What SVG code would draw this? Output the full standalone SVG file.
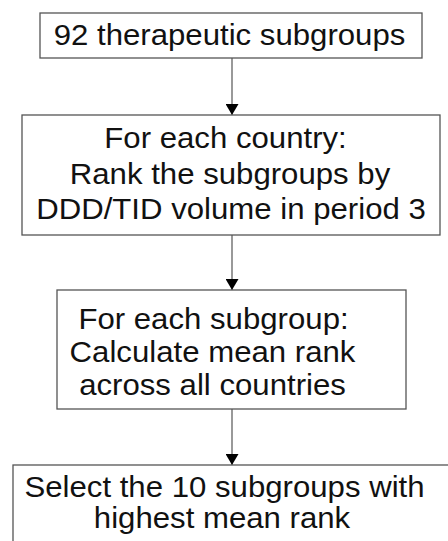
<svg xmlns="http://www.w3.org/2000/svg" width="448" height="541" viewBox="0 0 448 541">
<style>
.box{fill:#fff;stroke:#555;stroke-width:1.3}
.t{font-family:"Liberation Sans",Arial,sans-serif;font-size:29px;fill:#111;text-anchor:middle}
.ln{stroke:#555;stroke-width:1.2;fill:none}
</style>
<defs>
<marker id="ah" markerWidth="11" markerHeight="13" refX="11" refY="6.5" orient="auto" markerUnits="userSpaceOnUse">
<path d="M0,0 L11,6.5 L0,13 Z" fill="#000"/>
</marker>
</defs>
<rect width="448" height="541" fill="#fff"/>
<g id="connectors">
<path class="ln" d="M232,58 V115" marker-end="url(#ah)"/>
<path class="ln" d="M232,235 V290" marker-end="url(#ah)"/>
<path class="ln" d="M232,409 V465" marker-end="url(#ah)"/>
</g>
<g id="n1">
<rect class="box" x="40" y="13" width="382" height="45"/>
<text class="t" transform="translate(229.5,45) scale(1.075,1)">92 therapeutic subgroups</text>
</g>
<g id="n2">
<rect class="box" x="22" y="115" width="418" height="120"/>
<text class="t" transform="translate(225.5,148) scale(1.075,1)">For each country:</text>
<text class="t" transform="translate(230,184) scale(1.075,1)">Rank the subgroups by</text>
<text class="t" transform="translate(231,219) scale(1.075,1)">DDD/TID volume in period 3</text>
</g>
<g id="n3">
<rect class="box" x="57" y="290" width="349" height="119"/>
<text class="t" transform="translate(213.5,329) scale(1.075,1)">For each subgroup:</text>
<text class="t" transform="translate(212.5,362) scale(1.075,1)">Calculate mean rank</text>
<text class="t" transform="translate(212.5,395) scale(1.075,1)">across all countries</text>
</g>
<g id="n4">
<rect class="box" x="13" y="465" width="450" height="100"/>
<text class="t" transform="translate(224.5,497) scale(1.075,1)">Select the 10 subgroups with</text>
<text class="t" transform="translate(222,528) scale(1.075,1)">highest mean rank</text>
</g>
</svg>
